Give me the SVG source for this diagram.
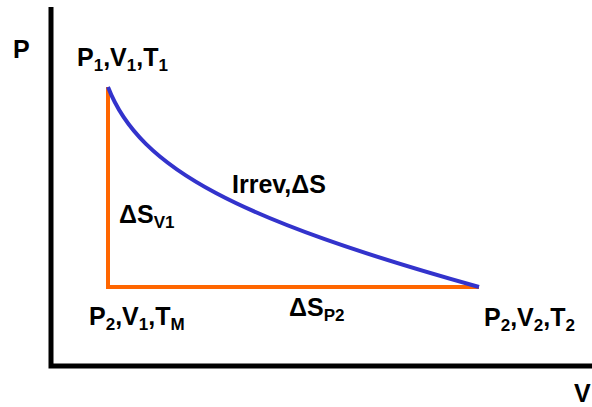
<svg xmlns="http://www.w3.org/2000/svg" width="592" height="407" viewBox="0 0 592 407">
<style>
text{font-family:"Liberation Sans",Arial,sans-serif;font-weight:bold;font-size:25px;fill:#000}
.sub{font-size:17px}
.axis{stroke:#000;stroke-width:5;fill:none}
.orange{stroke:#ff6600;stroke-width:4;fill:none}
.blue{stroke:#3333cc;stroke-width:4;fill:none}
</style>
<rect width="592" height="407" fill="#fff"/>
<g id="axes">
<path class="axis" d="M51,7 V366 H592"/>
<text x="13" y="58">P</text>
<text x="574" y="402">V</text>
</g>
<g id="connectors">
<path class="orange" d="M108,87 V287 H479"/>
<path class="blue" d="M108,87 C140,170 240,220 479,287"/>
</g>
<g id="n1"><text x="77" y="66">P<tspan class="sub" dy="5">1</tspan><tspan dy="-5">,V</tspan><tspan class="sub" dy="5">1</tspan><tspan dy="-5">,T</tspan><tspan class="sub" dy="5">1</tspan></text></g>
<g id="irrev"><text x="232" y="193">Irrev,ΔS</text></g>
<g id="dsv1"><text x="119" y="223">ΔS<tspan class="sub" dy="5">V1</tspan></text></g>
<g id="nM"><text x="89" y="325">P<tspan class="sub" dy="5">2</tspan><tspan dy="-5">,V</tspan><tspan class="sub" dy="5">1</tspan><tspan dy="-5">,T</tspan><tspan class="sub" dy="5">M</tspan></text></g>
<g id="dsp2"><text x="289" y="316">ΔS<tspan class="sub" dy="5">P2</tspan></text></g>
<g id="n2"><text x="484" y="326">P<tspan class="sub" dy="5">2</tspan><tspan dy="-5">,V</tspan><tspan class="sub" dy="5">2</tspan><tspan dy="-5">,T</tspan><tspan class="sub" dy="5">2</tspan></text></g>
</svg>
